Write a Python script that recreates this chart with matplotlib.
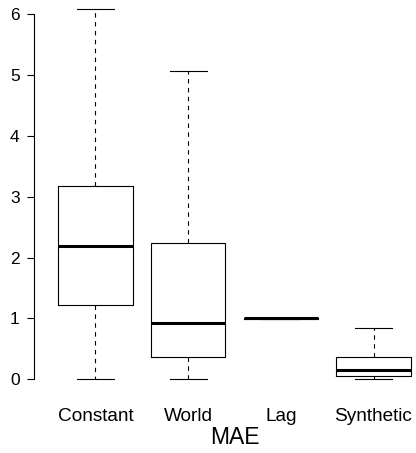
import matplotlib
matplotlib.use("Agg")
import matplotlib.pyplot as plt

categories = ["Constant", "World", "Lag", "Synthetic"]
whislo = [0.0, 0.0, 0.995, 0.0]
q1 = [1.22, 0.36, 0.995, 0.055]
med = [2.19, 0.925, 1.0, 0.16]
q3 = [3.17, 2.24, 1.005, 0.367]
whishi = [6.08, 5.07, 1.005, 0.835]
yticks = [0, 1, 2, 3, 4, 5, 6]
xlabel = "MAE"

plt.rcParams['font.family'] = ['Liberation Sans', 'DejaVu Sans']

fig = plt.figure(figsize=(4.16, 4.53), dpi=100)
ax = fig.add_axes([34.3 / 416, 58.9 / 453, 400.4 / 416, 399.8 / 453])

stats = []
for i, c in enumerate(categories):
    stats.append(dict(label=c, whislo=whislo[i], q1=q1[i], med=med[i],
                      q3=q3[i], whishi=whishi[i], fliers=[]))

positions = list(range(1, len(categories) + 1))
ax.bxp(stats, positions=positions, widths=0.8, showfliers=False,
       boxprops=dict(color='black', linewidth=0.8),
       medianprops=dict(color='black', linewidth=2.2, solid_capstyle='butt'),
       whiskerprops=dict(color='black', linewidth=0.8, linestyle=(0, (4, 4))),
       capprops=dict(color='black', linewidth=0.8),
       capwidths=0.4)

ax.set_xlim(0.34, 4.66)
ax.set_ylim(-0.2432, 6.3232)

for s in ['top', 'right', 'bottom']:
    ax.spines[s].set_visible(False)
ax.spines['left'].set_bounds(0, 6)
ax.spines['left'].set_linewidth(0.8)

ax.set_yticks(yticks)
ax.set_yticklabels([str(t) for t in yticks], fontsize=12.5)
ax.tick_params(axis='y', length=5, width=0.8, pad=5.5)

ax.set_xticks(positions)
ax.set_xticklabels(categories, fontsize=13.7)
ax.tick_params(axis='x', length=0, pad=10)
ax.set_xlabel(xlabel, fontsize=16.5, labelpad=1)

fig.savefig("out.png", dpi=100)
